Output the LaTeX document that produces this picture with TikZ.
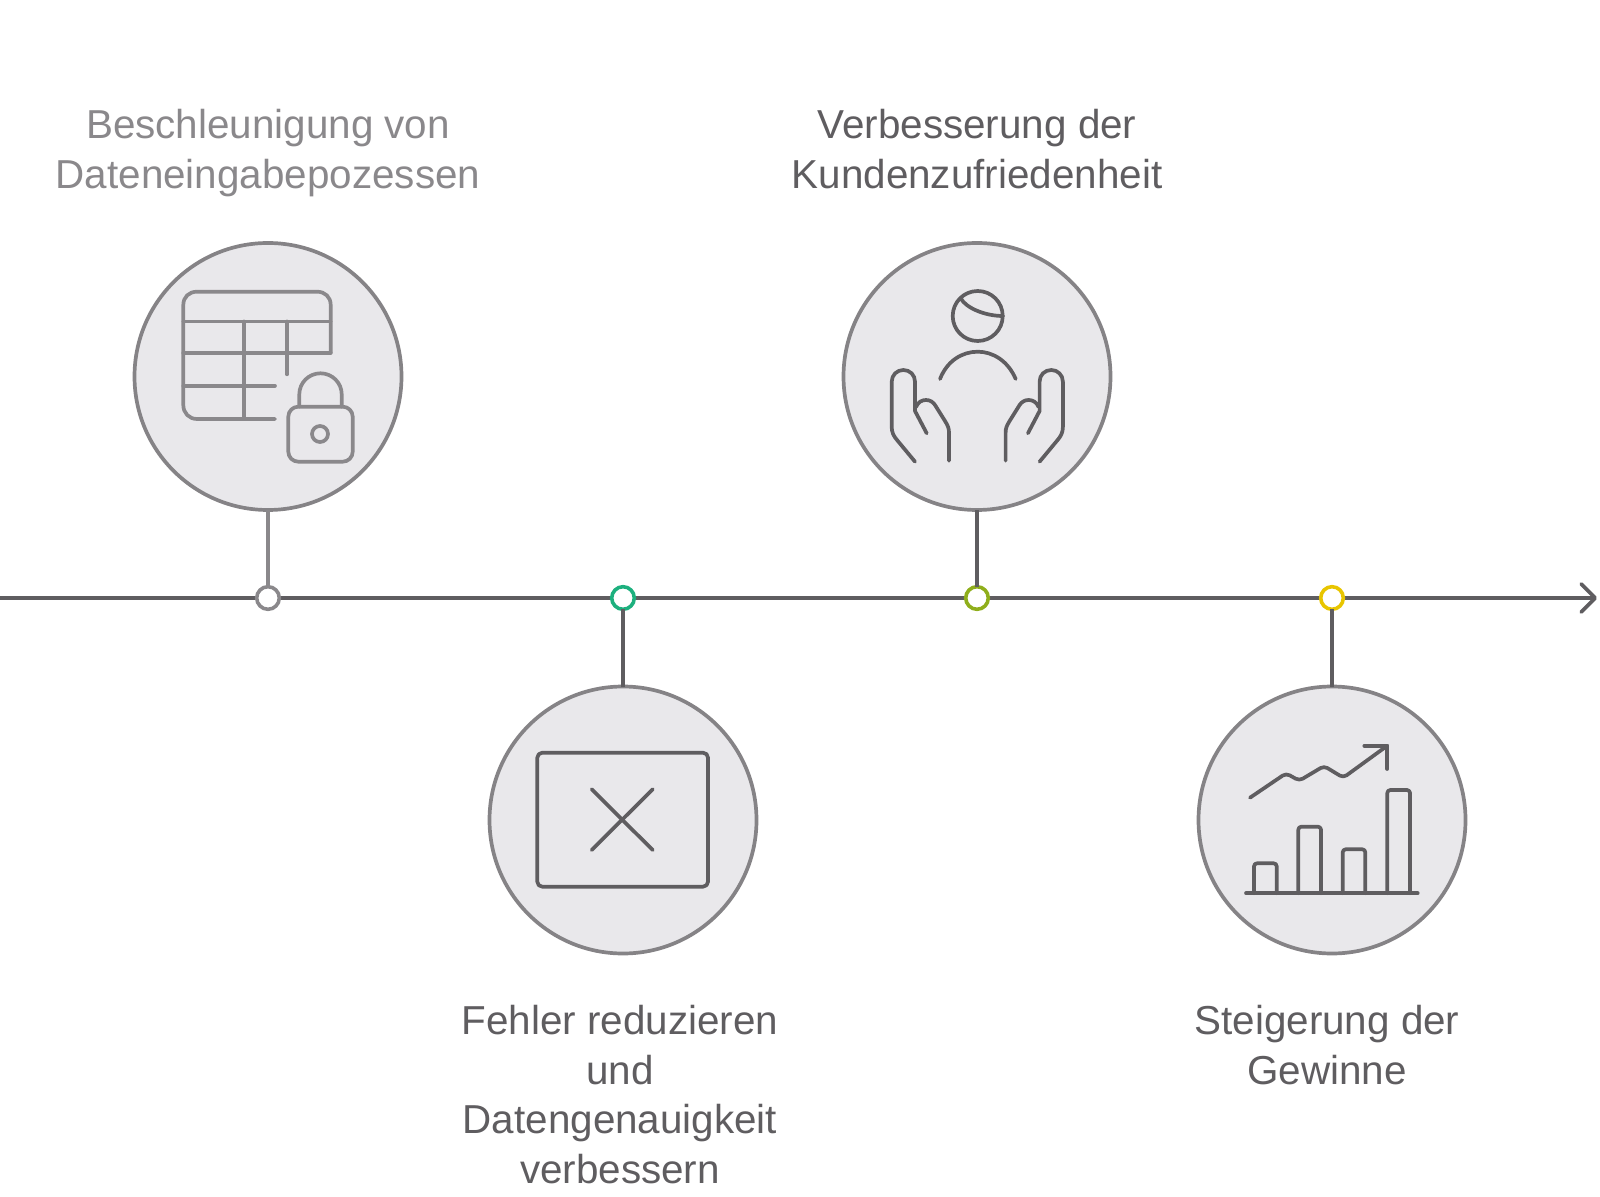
\documentclass[tikz,border=0pt]{standalone}
\usepackage{fontspec}
\setmainfont{Liberation Sans}
\usepackage{xcolor}
\usetikzlibrary{arrows.meta}
\definecolor{darkline}{HTML}{5F5D60}
\definecolor{paleline}{HTML}{8A888B}
\definecolor{ringline}{HTML}{858386}
\definecolor{discfill}{HTML}{E9E8EB}
\definecolor{dotgreen}{HTML}{1DB07E}
\definecolor{dotolive}{HTML}{8FAE1B}
\definecolor{dotyellow}{HTML}{E8C500}
\tikzset{
	disc/.style = {circle, draw = ringline, fill = discfill, line width = 1.85pt, minimum size = 133.5pt, inner sep = 0pt, outer sep = 0pt},
	dot/.style = {circle, draw = #1, fill = white, line width = 1.8pt, minimum size = 11.3pt, inner sep = 0pt, outer sep = 0pt},
	stem/.style = {draw = #1, line width = 1.6pt},
	icon/.style = {draw = #1, line width = 1.85pt, line cap = round, line join = round},
	label/.style = {text = #1, align = center, font = \fontsize{20.2pt}{24.75pt}\selectfont}
}
\begin{document}
\begin{tikzpicture}[x = 0.5pt, y = -0.5pt]
		\useasboundingbox (0,0) rectangle (1600,1197);
		\coordinate (axisStart) at (0,598);
		\coordinate (axisEnd) at (1597,598);
		\draw[draw = darkline, line width = 1.85pt, line cap = round, -{Straight Barb[length = 7pt, width = 14pt, line width = 1.85pt, round]}] (axisStart) -- (axisEnd);

		\node[disc] (discData) at (268,376.5) {};
		\node[disc] (discError) at (623,820) {};
		\node[disc] (discClient) at (977,376.5) {};
		\node[disc] (discProfit) at (1332,820) {};
		\node[dot = paleline] (dotData) at (268,598) {};
		\node[dot = dotgreen] (dotError) at (623,598) {};
		\node[dot = dotolive] (dotClient) at (977,598) {};
		\node[dot = dotyellow] (dotProfit) at (1332,598) {};
		\draw[stem = paleline] (discData.south) -- (dotData.north);
		\draw[stem = darkline] (dotError.south) -- (discError.north);
		\draw[stem = darkline] (discClient.south) -- (dotClient.north);
		\draw[stem = darkline] (dotProfit.south) -- (discProfit.north);

		\node[label = paleline] (textData) at (268,153) {Beschleunigung von\\Dateneingabepozessen};
		\node[label = darkline] (textClient) at (977,149) {Verbesserung der\\Kundenzufriedenheit};
		\node[label = darkline] (textError) at (620,1094.5) {Fehler reduzieren\\und\\Datengenauigkeit\\verbessern};
		\node[label = darkline] (textProfit) at (1327,1045) {Steigerung der\\Gewinne};

		\draw[icon = paleline] (330.7,353) -- (330.7,305) .. controls (330.7,297) and (325,291.7) .. (317,291.7) -- (197,291.7) .. controls (189,291.7) and (183.3,297) .. (183.3,305) -- (183.3,405) .. controls (183.3,413) and (189,419) .. (197,419) -- (275,419);
		\draw[icon = paleline] (183.3,321.5) -- (330.7,321.5);
		\draw[icon = paleline] (183.3,353) -- (330.7,353);
		\draw[icon = paleline] (183.3,385.7) -- (275,385.7);
		\draw[icon = paleline] (244,321.5) -- (244,419);
		\draw[icon = paleline] (287,321.5) -- (287,374.3);
		\draw[icon = paleline, rounded corners = 5pt] (288.3,406.7) rectangle (352.7,461.7);
		\draw[icon = paleline] (299.3,406.7) -- (299.3,394.3) .. controls (299.3,382.7) and (308.9,373.3) .. (320.5,373.3) .. controls (332.1,373.3) and (341.7,382.7) .. (341.7,394.3) -- (341.7,406.7);
		\draw[icon = paleline] (320,434) circle[radius = 4pt];

		\draw[icon = darkline, rounded corners = 2.5pt] (537.3,752.7) rectangle (708,886.7);
		\draw[icon = darkline] (591.7,789.3) -- (652.7,850);
		\draw[icon = darkline] (652.7,789.3) -- (591.7,850);

		\draw[icon = darkline] (977.7,316) circle[radius = 12.5pt];
		\draw[icon = darkline] (960.7,298.3) .. controls (966,308) and (985,316) .. (1003,316);
		\draw[icon = darkline] (940,379) .. controls (947,361) and (962,351.7) .. (977.7,351.7) .. controls (993,351.7) and (1008,361) .. (1015.7,379);
		\foreach \flip/\move in {1/0, -1/1954.6} {
			\begin{scope}[shift = {(\move,0)}, xscale = \flip]
				\draw[icon = darkline] (915,461.7) -- (897,440) .. controls (893.5,436) and (891.7,432) .. (891.7,427) -- (891.7,381.7) .. controls (891.7,375) and (897,370) .. (903.3,370) .. controls (910,370) and (915,375) .. (915,381.7) -- (915,411) -- (926.7,433.3);
				\draw[icon = darkline] (916,407) .. controls (918,402) and (922,400) .. (926,400) .. controls (930,400) and (933,402) .. (935,405) -- (945,421) .. controls (948,426) and (949,428) .. (949,433) -- (949,460.7);
			\end{scope}
		}

		\draw[icon = darkline] (1246,893.3) -- (1417.7,893.3);
		\draw[icon = darkline, rounded corners = 1.5pt] (1254,893.3) -- (1254,863.3) -- (1276.7,863.3) -- (1276.7,893.3);
		\draw[icon = darkline, rounded corners = 1.5pt] (1298.3,893.3) -- (1298.3,826.7) -- (1321,826.7) -- (1321,893.3);
		\draw[icon = darkline, rounded corners = 1.5pt] (1342.7,893.3) -- (1342.7,849.3) -- (1365.3,849.3) -- (1365.3,893.3);
		\draw[icon = darkline, rounded corners = 1.5pt] (1387.3,893.3) -- (1387.3,790) -- (1410,790) -- (1410,893.3);
		\draw[icon = darkline, rounded corners = 2pt] (1250,797.7) -- (1286,773.3) -- (1299.3,780.7) -- (1324,766) -- (1343.3,777.7) -- (1387.3,745.7);
		\draw[icon = darkline] (1364.3,745.7) -- (1387.3,745.7) -- (1387.3,769);
	\end{tikzpicture}
\end{document}
